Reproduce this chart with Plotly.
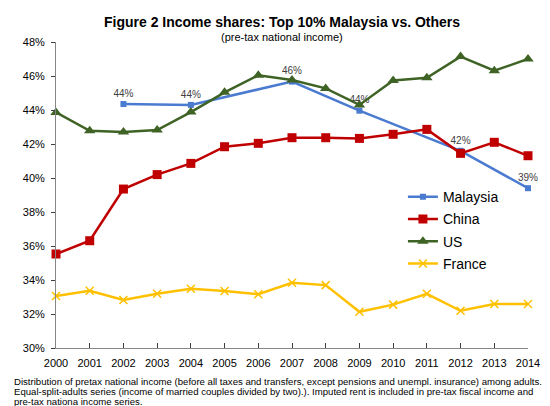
import plotly.graph_objects as go

years = list(range(2000, 2015))

malaysia = [None, None, 44.35, None, 44.3, None, None, 45.67, None, 43.96,
            None, None, 41.6, None, 39.4]
china = [35.53, 36.31, 39.35, 40.2, 40.86, 41.84, 42.04, 42.37, 42.37, 42.33,
         42.57, 42.86, 41.45, 42.1, 41.31]
us = [43.86, 42.78, 42.7, 42.82, 43.88, 45.04, 46.04, 45.76, 45.27, 44.3,
      45.73, 45.9, 47.14, 46.31, 47.0]
france = [33.06, 33.37, 32.82, 33.19, 33.49, 33.35, 33.16, 33.84, 33.7, 32.13,
          32.55, 33.19, 32.19, 32.59, 32.59]

y_ticks = [30, 32, 34, 36, 38, 40, 42, 44, 46, 48]
y_labels = [f"{v}%" for v in y_ticks]

footer = [
    "Distribution of pretax national income (before all taxes and transfers, except pensions and unempl. insurance) among adults.",
    "Equal-split-adults series (income of married couples divided by two).). Imputed rent is included in pre-tax fiscal income and",
    "pre-tax nationa income series.",
]

fig = go.Figure()

fig.add_trace(go.Scatter(
    x=years, y=malaysia, name="Malaysia", mode="lines+markers+text",
    connectgaps=True, legendgroup="a", cliponaxis=False,
    line=dict(color="#4A7BD0", width=2.5),
    marker=dict(symbol="square", size=6, color="#4A7BD0"),
    text=[f"{v:.0f}%" if v is not None else "" for v in malaysia],
    textposition="top center",
    textfont=dict(family="Arial", size=10, color="#404040"),
))
fig.add_trace(go.Scatter(
    x=years, y=china, name="China", mode="lines+markers", legendgroup="b",
    cliponaxis=False,
    line=dict(color="#C00000", width=2.5),
    marker=dict(symbol="square", size=9, color="#C00000"),
))
fig.add_trace(go.Scatter(
    x=years, y=us, name="US", mode="lines+markers", legendgroup="c",
    cliponaxis=False,
    line=dict(color="#3E6325", width=2.5),
    marker=dict(symbol="triangle-up", size=10, color="#3E6325"),
))
fig.add_trace(go.Scatter(
    x=years, y=france, name="France", mode="lines+markers", legendgroup="d",
    cliponaxis=False,
    line=dict(color="#FFC000", width=2.5),
    marker=dict(symbol="x-thin", size=8, color="#FFC000",
                line=dict(color="#FFC000", width=1.5)),
))

annotations = [
    dict(text="<b>Figure 2 Income shares: Top 10% Malaysia vs. Others</b>",
         x=0.478, y=1.065, xref="paper", yref="paper", yanchor="middle",
         showarrow=False, font=dict(family="Arial", size=14, color="black")),
    dict(text="(pre-tax national income)",
         x=0.478, y=1.017, xref="paper", yref="paper", yanchor="middle",
         showarrow=False, font=dict(family="Arial", size=11, color="black")),
]
for i, line in enumerate(footer):
    annotations.append(dict(
        text=line, x=-0.093, y=-0.11 - i * 0.032, xref="paper", yref="paper",
        xanchor="left", yanchor="middle", showarrow=False,
        font=dict(family="Arial", size=9.6, color="black")))

# page body adds an 8px offset, so the figure is 8px smaller each way
fig.update_layout(
    width=542, height=398,
    margin=dict(l=48, r=22, t=34, b=58),
    plot_bgcolor="white", paper_bgcolor="white",
    font=dict(family="Arial", size=11, color="black"),
    showlegend=True,
    legend=dict(x=0.735, y=0.545, xanchor="left", yanchor="top",
                font=dict(family="Arial", size=14, color="black"),
                bgcolor="rgba(0,0,0,0)", traceorder="grouped",
                tracegroupgap=1),
    annotations=annotations,
    xaxis=dict(range=[2000, 2014], tickvals=years, showgrid=False,
               showline=True, linecolor="#868686", linewidth=1,
               ticks="inside", ticklen=5, tickcolor="#404040",
               ticklabelstandoff=5,
               zeroline=False, automargin=False),
    yaxis=dict(range=[30, 48], tickvals=y_ticks, ticktext=y_labels,
               showgrid=False, showline=True, linecolor="#868686",
               linewidth=1, ticks="outside", ticklen=4, tickcolor="#404040",
               ticklabelstandoff=4,
               zeroline=False, automargin=False),
)

fig.write_html("out.html")
